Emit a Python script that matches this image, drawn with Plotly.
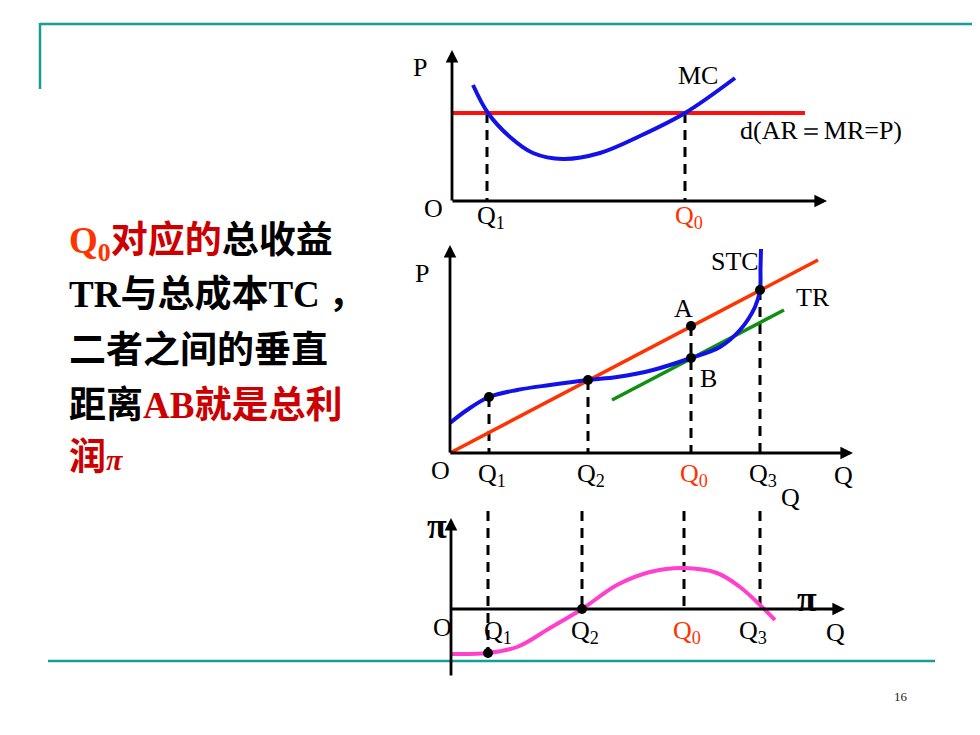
import plotly.graph_objects as go

OFF = 8            # page body margin of the html page
W, H = 980 - OFF, 735 - OFF
SERIF = "Liberation Serif"
CJK = "Noto Sans CJK SC"
RED_TXT = "#cc0000"
ORANGE = "#ff3300"
TEAL = "#179d94"
BLUE = "#1212e8"
DASH = "10px,7px"
LBL = 26

# ---------------- data (units: arbitrary Q / P) -------------
# Panel 1: MC curve and demand line d(AR=MR=P)
mc_q = [2.1, 3.6, 5.8, 8.1, 11.1, 14.8, 18.8, 23.3, 28.3]
mc_p = [11.6, 8.8, 6.4, 4.8, 4.2, 4.8, 6.5, 8.8, 12.3]
d_q = [0.1, 35.3]
d_p = [8.8, 8.8]
p1_ticks_q = [3.5, 23.3]          # Q1, Q0
p1_ticks_top = [8.8, 8.8]

# Panel 2: TR line, STC curve, tangent line
tr_q = [0.0, 36.8]
tr_p = [0.0, 19.3]
stc_q = [0.0, 1.7, 3.9, 6.7, 10.0, 13.8, 16.7, 20.3, 24.1, 27.0, 29.0, 30.5, 31.0, 31.05, 31.1]
stc_p = [3.0, 4.3, 5.6, 6.3, 6.8, 7.3, 7.6, 8.3, 9.5, 10.6, 12.3, 14.6, 16.3, 18.5, 20.4]
tan_q = [16.2, 33.4]
tan_p = [5.3, 14.3]
p2_ticks_q = [3.9, 13.8, 24.1, 31.0]     # Q1, Q2, Q0, Q3
p2_ticks_top = [5.6, 7.3, 12.7, 16.3]
p2_dots_q = [3.9, 13.8, 24.1, 24.1, 31.0]
p2_dots_p = [5.6, 7.3, 12.7, 9.5, 16.3]

# Panel 3: profit curve
pi_q = [0.1, 3.7, 6.6, 9.9, 13.1, 16.6, 19.9, 23.3, 26.6, 28.9, 31.1, 32.4]
pi_v = [-4.5, -4.4, -3.8, -1.9, 0.0, 2.4, 3.7, 4.1, 3.6, 2.2, 0.2, -1.1]
p3_ticks_q = [3.7, 13.1, 23.3, 30.9]
p3_ticks_top = [9.8, 9.8, 9.8, 9.8]
p3_ticks_bot = [-4.6, 0.0, 0.0, 0.0]
p3_dots_q = [3.7, 13.1]
p3_dots_v = [-4.4, 0.0]

q_labels = ["Q<sub>1</sub>", "Q<sub>2</sub>", "Q<sub>0</sub>", "Q<sub>3</sub>"]
left_lines = [
    "<b><span style='font-family:Liberation Serif;color:#ff3300'>Q<sub>0</sub></span>"
    "<span style='color:#cc0000'>对应的</span>总收益</b>",
    "<b><span style='font-family:Liberation Serif'>TR</span>与总成本"
    "<span style='font-family:Liberation Serif'>TC</span> ，</b>",
    "<b>二者之间的垂直</b>",
    "<b>距离<span style='color:#cc0000'><span style='font-family:Liberation Serif'>AB</span>就是总利</span></b>",
    "<b><span style='color:#cc0000'>润<span style='font-family:Liberation Serif;font-size:30px'><i>π</i></span></span></b>",
]

# ---------------- panel geometry -----------------------------------------------
S = 10.0  # px per data unit


def fx(px):
    return (px - OFF) / W


def fy(py):
    return 1 - (py - OFF) / H


def panel(ox, oy, L, R, T, B):
    return dict(
        xdom=[fx(L), fx(R)], ydom=[fy(B), fy(T)],
        xr=[(L - ox) / S, (R - ox) / S], yr=[(oy - B) / S, (oy - T) / S])


P1 = panel(452, 201, 400, 945, 40, 228)
P2 = panel(450, 453, 400, 945, 229, 505)
P3 = panel(451, 609, 400, 945, 506, 690)

fig = go.Figure()


def line(xs, ys, k, color, width=3.5, dash=None, shape="linear"):
    fig.add_trace(go.Scatter(x=xs, y=ys, mode="lines", xaxis="x" + k, yaxis="y" + k,
                             line=dict(color=color, width=width, dash=dash, shape=shape),
                             hoverinfo="skip"))


def dots(xs, ys, k):
    fig.add_trace(go.Scatter(x=xs, y=ys, mode="markers", xaxis="x" + k, yaxis="y" + k,
                             marker=dict(color="black", size=10), hoverinfo="skip"))


# Panel 1
for q, top in zip(p1_ticks_q, p1_ticks_top):
    line([q, q], [top, 0], "", "black", 3, DASH)
line(d_q, d_p, "", "#ff1010", 4)
line(mc_q, mc_p, "", BLUE, 4, shape="spline")

# Panel 2
for q, top in zip(p2_ticks_q, p2_ticks_top):
    line([q, q], [top, 0], "2", "black", 3, DASH)
line(tan_q, tan_p, "2", "#109010", 3.5)
line(tr_q, tr_p, "2", ORANGE, 3.5)
line(stc_q, stc_p, "2", BLUE, 4, shape="spline")
dots(p2_dots_q, p2_dots_p, "2")

# Panel 3
for q, top, bot in zip(p3_ticks_q, p3_ticks_top, p3_ticks_bot):
    line([q, q], [top, bot], "3", "black", 3, DASH)
line(pi_q, pi_v, "3", "#ff40cc", 4, shape="spline")
dots(p3_dots_q, p3_dots_v, "3")

ann = []


def arrow(k, x0, y0, x1, y1):
    ann.append(dict(x=x1, y=y1, ax=x0, ay=y0, xref="x" + k, yref="y" + k,
                    axref="x" + k, ayref="y" + k, text="", showarrow=True,
                    arrowhead=2, arrowsize=0.9, arrowwidth=2.8, arrowcolor="black",
                    standoff=0, startstandoff=0))


def label(k, x, y, text, color="black", size=LBL, xanchor="center", family=SERIF):
    ann.append(dict(x=x, y=y, xref="x" + k, yref="y" + k, text=text, showarrow=False,
                    xanchor=xanchor, yanchor="middle",
                    font=dict(family=family, size=size, color=color)))


# axes
arrow("", 0, -0.1, 0, 15.1)
arrow("", -0.1, 0, 37.5, 0)
arrow("2", 0, -0.1, 0, 20.8)
arrow("2", -0.1, 0, 40.3, 0)
arrow("3", 0, -6.8, 0, 9.1)
arrow("3", -0.1, 0, 39.4, 0)

# panel 1 labels
label("", -3.2, 13.4, "P")
label("", 24.6, 12.6, "MC")
label("", 28.6, 7.1, "d(AR＝MR=P)", xanchor="left")
label("", -1.9, -0.7, "O")
label("", 3.9, -1.6, q_labels[0])
label("", 23.7, -1.6, q_labels[2], color=ORANGE)

# panel 2 labels
label("2", -2.8, 18.0, "P")
label("2", 28.5, 19.1, "STC")
label("2", 36.3, 15.6, "TR")
label("2", 23.3, 14.5, "A")
label("2", 25.8, 7.5, "B")
label("2", -1.0, -1.7, "O")
for q, t in zip(p2_ticks_q, q_labels):
    label("2", q + 0.3, -2.2, t, color=ORANGE if t == q_labels[2] else "black")
label("2", 39.3, -2.2, "Q")
label("2", 34.0, -4.4, "Q")

# panel 3 labels
label("3", -1.4, 8.3, "<b>π</b>", size=36)
label("3", 35.6, 1.0, "<b>π</b>", size=36)
label("3", -0.9, -1.8, "O")
for q, t, dx in zip(p3_ticks_q, q_labels, [1.0, 0.3, 0.3, -0.7]):
    label("3", q + dx, -2.3, t, color=ORANGE if t == q_labels[2] else "black")
label("3", 38.4, -2.3, "Q")

# left text block
for t, yc in zip(left_lines, [238, 291, 347, 402, 454]):
    ann.append(dict(x=fx(67), y=fy(yc), xref="paper", yref="paper", text=t,
                    showarrow=False, xanchor="left", yanchor="middle",
                    font=dict(family=CJK, size=37, color="black")))

# page number
ann.append(dict(x=fx(910), y=fy(706), xref="paper", yref="paper", text="16",
                showarrow=False, font=dict(family=SERIF, size=13, color="#222222")))

shapes = [
    dict(type="line", xref="paper", yref="paper", x0=fx(40), x1=1.0, y0=fy(24), y1=fy(24),
         line=dict(color=TEAL, width=2.5), layer="below"),
    dict(type="line", xref="paper", yref="paper", x0=fx(40), x1=fx(40), y0=fy(23), y1=fy(89),
         line=dict(color=TEAL, width=2.5), layer="below"),
    dict(type="line", xref="paper", yref="paper", x0=fx(48), x1=fx(935), y0=fy(661), y1=fy(661),
         line=dict(color=TEAL, width=2.5), layer="below"),
]


def axis(p, which, anchor):
    dom = p["xdom"] if which == "x" else p["ydom"]
    rng = p["xr"] if which == "x" else p["yr"]
    return dict(domain=dom, range=rng, anchor=anchor, visible=False, fixedrange=True)


fig.update_layout(
    width=W, height=H, margin=dict(l=0, r=0, t=0, b=0),
    paper_bgcolor="white", plot_bgcolor="rgba(0,0,0,0)", showlegend=False,
    xaxis=axis(P1, "x", "y"), yaxis=axis(P1, "y", "x"),
    xaxis2=axis(P2, "x", "y2"), yaxis2=axis(P2, "y", "x2"),
    xaxis3=axis(P3, "x", "y3"), yaxis3=axis(P3, "y", "x3"),
    annotations=ann, shapes=shapes,
)

fig.write_html("out.html")
